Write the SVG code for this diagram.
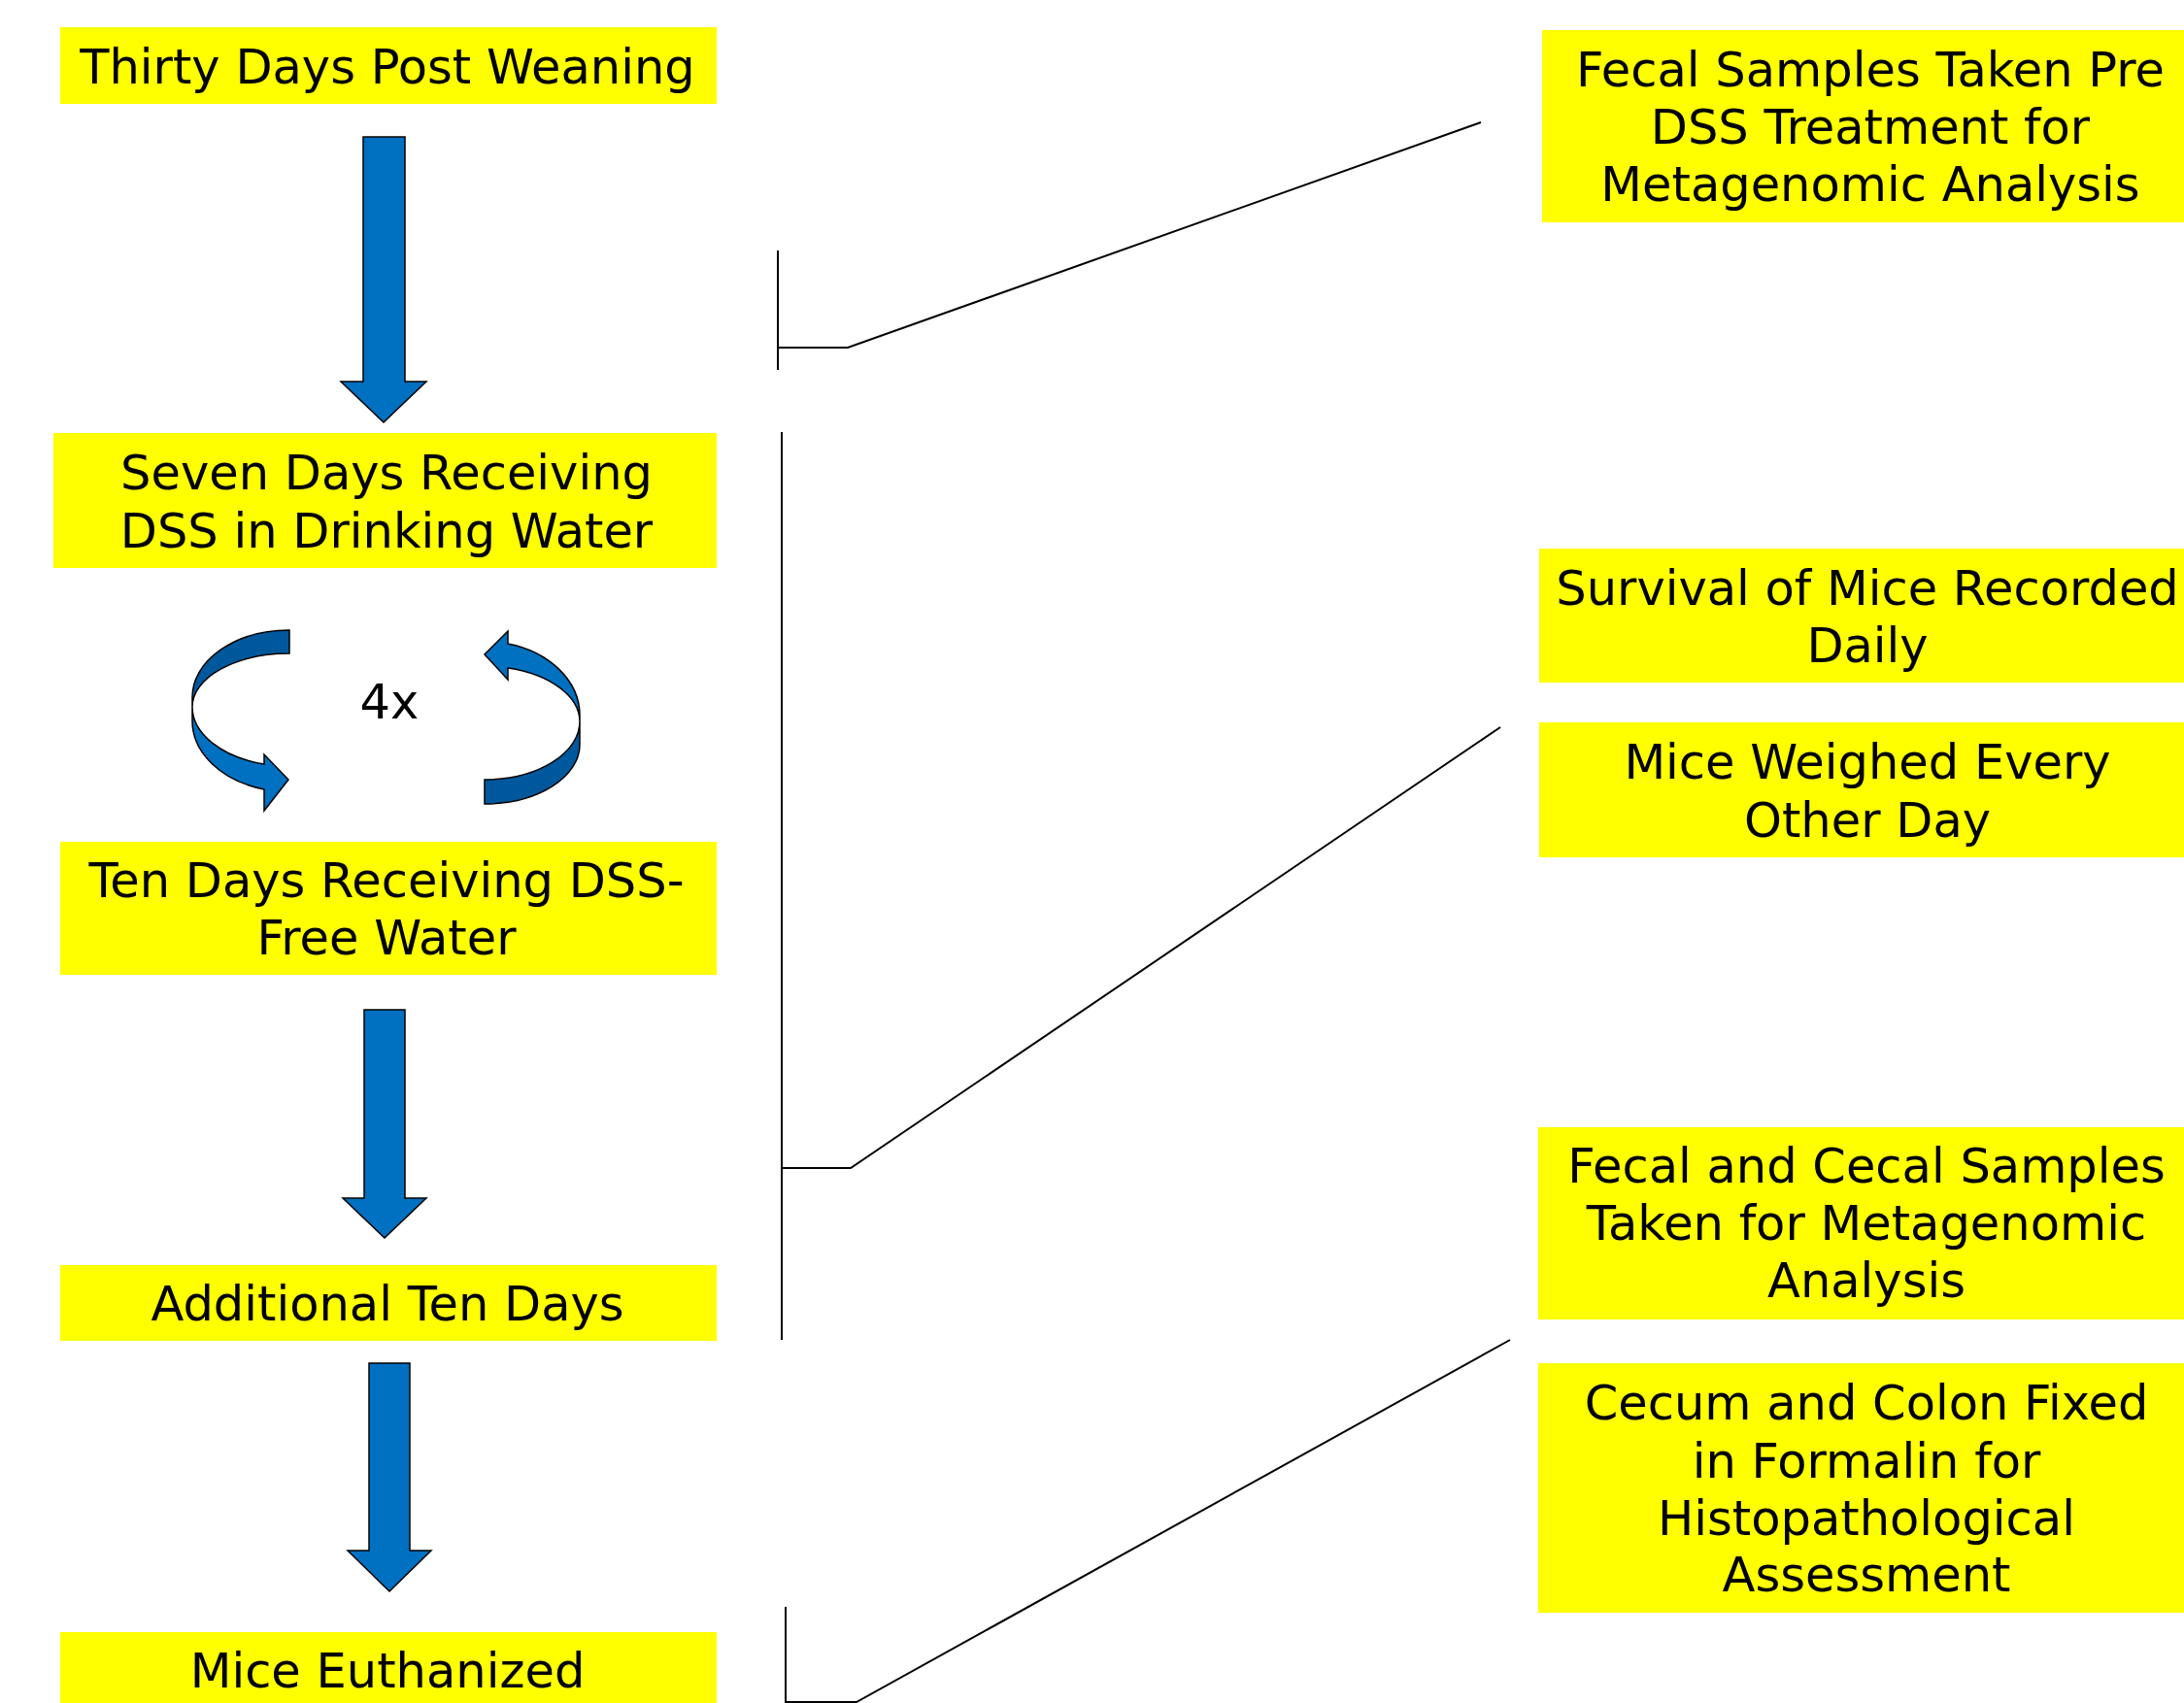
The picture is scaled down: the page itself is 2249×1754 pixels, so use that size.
<svg xmlns="http://www.w3.org/2000/svg" width="2249" height="1754" viewBox="0 0 2249 1754">
<style>
.box{fill:#FFFF00;stroke:none}
.t{font-family:"DejaVu Sans","Verdana",sans-serif;font-size:49.5px;fill:#000;text-anchor:middle}
.blk{fill:#0070C0;stroke:#000;stroke-width:1.5;stroke-linejoin:miter}
.dark{fill:#00589C;stroke:#000;stroke-width:1.5}
.light{fill:#0070C0;stroke:#000;stroke-width:1.5}
.ln{fill:none;stroke:#000;stroke-width:2}
</style>
<rect width="2249" height="1754" fill="#fff"/>

<g id="n-thirty">
<rect class="box" x="62" y="28" width="676" height="79"/>
<text class="t" x="399" y="86">Thirty Days Post Weaning</text>
</g>
<g id="n-seven">
<rect class="box" x="55" y="446" width="683" height="139"/>
<text class="t" x="398" y="504">Seven Days Receiving</text>
<text class="t" x="398" y="564">DSS in Drinking Water</text>
</g>
<g id="n-cycle">
<path class="dark" d="M298,649 L298,673 A100,55 0 0 0 198,728 L198,718 A100,69 0 0 1 298,649 Z"/>
<path class="light" d="M198,728 A100,61 0 0 0 272,787 L272,777 L297,803 L272,835 L272,813 A100,73 0 0 1 198,742 Z"/>
<path class="dark" d="M499,803 A98,60 0 0 0 597,743 L597,767 A98,61 0 0 1 499,828 Z"/>
<path class="light" d="M597,743 A98,57 0 0 0 523,688 L523,700 L499,674 L523,650 L523,663 A98,76 0 0 1 597,737 Z"/>
<text class="t" x="401" y="740">4x</text>
</g>
<g id="n-ten">
<rect class="box" x="62" y="867" width="676" height="137"/>
<text class="t" x="398" y="924">Ten Days Receiving DSS-</text>
<text class="t" x="398" y="983">Free Water</text>
</g>
<g id="n-additional">
<rect class="box" x="62" y="1303" width="676" height="78"/>
<text class="t" x="399" y="1360">Additional Ten Days</text>
</g>
<g id="n-euthanized">
<rect class="box" x="62" y="1681" width="676" height="80"/>
<text class="t" x="399" y="1738">Mice Euthanized</text>
</g>

<g id="n-fecal-pre">
<rect class="box" x="1588" y="31" width="676" height="198"/>
<text class="t" x="1926" y="89">Fecal Samples Taken Pre</text>
<text class="t" x="1926" y="148">DSS Treatment for</text>
<text class="t" x="1926" y="207">Metagenomic Analysis</text>
</g>
<g id="n-survival">
<rect class="box" x="1585" y="565" width="676" height="138"/>
<text class="t" x="1923" y="623">Survival of Mice Recorded</text>
<text class="t" x="1923" y="682">Daily</text>
</g>
<g id="n-weighed">
<rect class="box" x="1585" y="744" width="676" height="139"/>
<text class="t" x="1923" y="802">Mice Weighed Every</text>
<text class="t" x="1923" y="862">Other Day</text>
</g>
<g id="n-fecal-cecal">
<rect class="box" x="1584" y="1161" width="676" height="198"/>
<text class="t" x="1922" y="1218">Fecal and Cecal Samples</text>
<text class="t" x="1922" y="1277">Taken for Metagenomic</text>
<text class="t" x="1922" y="1336">Analysis</text>
</g>
<g id="n-cecum">
<rect class="box" x="1584" y="1404" width="676" height="257"/>
<text class="t" x="1922" y="1462">Cecum and Colon Fixed</text>
<text class="t" x="1922" y="1522">in Formalin for</text>
<text class="t" x="1922" y="1581">Histopathological</text>
<text class="t" x="1922" y="1639">Assessment</text>
</g>

<g id="connectors">
<polygon class="blk" points="374,141 417,141 417,393 439,393 395,435 351,393 374,393"/>
<polygon class="blk" points="375,1040 417,1040 417,1234 439,1234 396,1275 353,1234 375,1234"/>
<polygon class="blk" points="380,1404 422,1404 422,1597 444,1597 401,1639 358,1597 380,1597"/>
<line class="ln" x1="801" y1="258" x2="801" y2="381"/>
<polyline class="ln" points="801,358 873,358 1525,126"/>
<line class="ln" x1="805" y1="445" x2="805" y2="1380"/>
<polyline class="ln" points="805,1203 876,1203 1545,749"/>
<line class="ln" x1="809" y1="1655" x2="809" y2="1754"/>
<polyline class="ln" points="809,1753 882,1753 1555,1380"/>
</g>
</svg>
